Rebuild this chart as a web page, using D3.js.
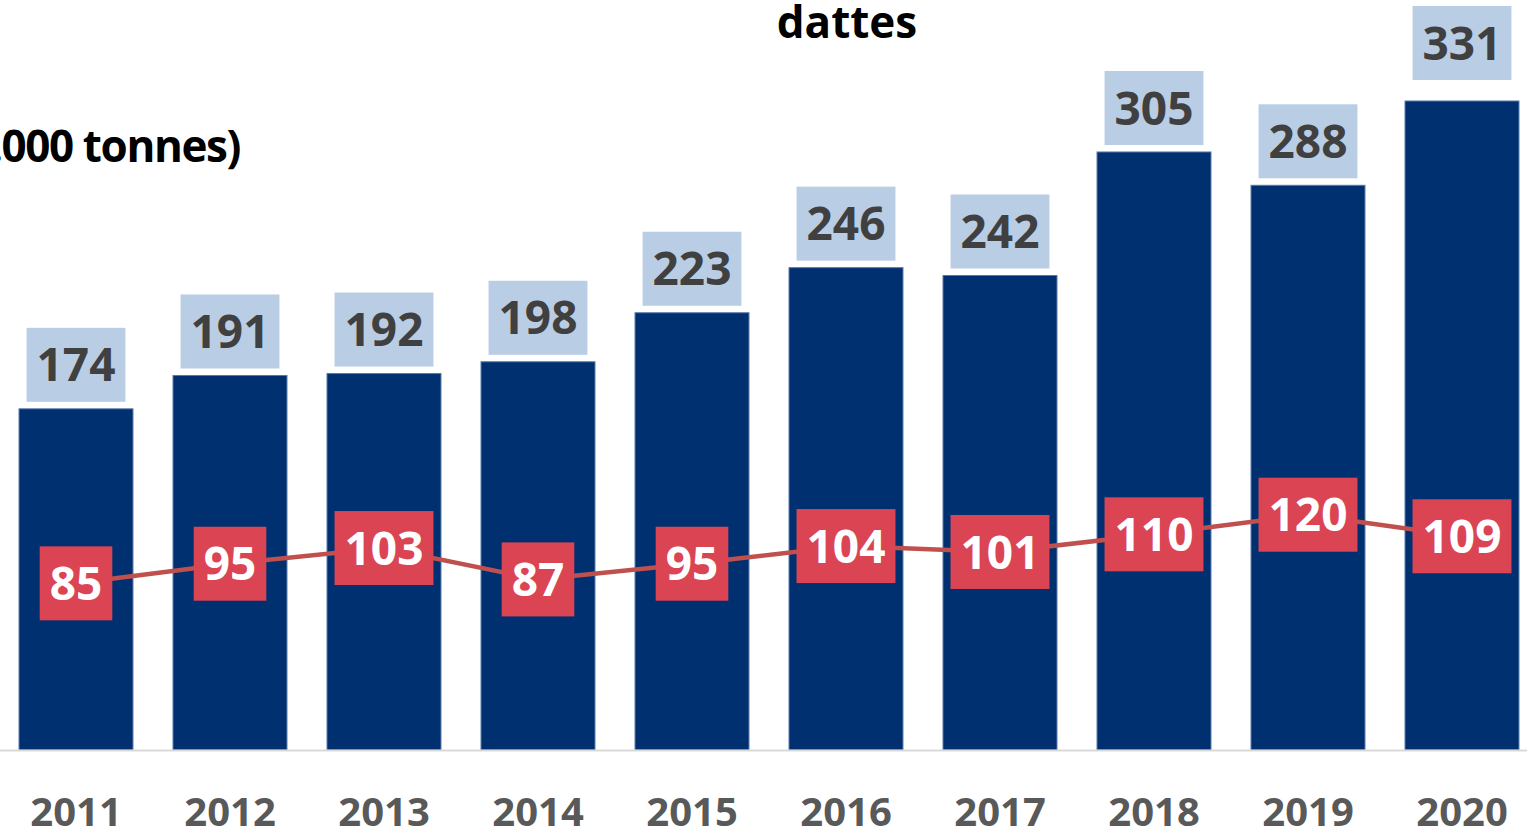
<!DOCTYPE html>
<html>
<head>
<meta charset="utf-8">
<script src="https://cdn.jsdelivr.net/npm/d3@7"></script>
<style>
  html, body { margin: 0; padding: 0; background: #fff; overflow: hidden; }
  svg { display: block; font-family: "Open Sans", "Noto Sans", sans-serif; font-weight: 700; }
</style>
</head>
<body>
<svg id="chart" width="1527" height="837"></svg>
<script>
// ============ Data ============
const years = ["2011","2012","2013","2014","2015","2016","2017","2018","2019","2020"];
const production = [174, 191, 192, 198, 223, 246, 242, 305, 288, 331];
const secondSeries = [85, 95, 103, 87, 95, 104, 101, 110, 120, 109];
const titleText = "dattes";
const unitText = "(1.000 tonnes)";

// ============ Setup ============
const WIDTH = 1527, HEIGHT = 837;
const BASE_Y = 750;
const BOX_H = 74;
const svg = d3.select("#chart");

const x = d3.scaleBand()
  .domain(years)
  .range([-1, 1539])
  .paddingInner(0.26)
  .paddingOuter(0.13);

const y = d3.scaleLinear()
  .domain([0, 331])
  .range([BASE_Y, 101]);

const rows = years.map((yr, i) => ({ yr, bar: production[i], line: secondSeries[i] }));
const cx = d => x(d.yr) + x.bandwidth() / 2;
// gap between a bar top and its label box (last label sits a bit higher in the source)
const labelGap = d => d.yr === "2020" ? 21 : 7;

// ---- Bars ----
svg.append("g").selectAll("rect")
  .data(rows)
  .enter().append("rect")
  .attr("x", d => x(d.yr))
  .attr("y", d => y(d.bar))
  .attr("width", x.bandwidth())
  .attr("height", d => BASE_Y - y(d.bar))
  .attr("fill", "#003070")
  .attr("stroke", "#5577aa")
  .attr("stroke-width", 1);

// ---- Axis ----
const axis = svg.append("g")
  .attr("transform", `translate(0,${BASE_Y})`)
  .call(d3.axisBottom(x).tickSize(0).tickSizeOuter(0));
axis.select(".domain").attr("stroke", "#d9d9d9").attr("stroke-width", 2);
axis.selectAll(".tick text")
  .attr("y", 76)
  .attr("dy", 0)
  .attr("fill", "#595959")
  .attr("font-size", 40)
  .attr("font-weight", 700)
  .attr("font-family", "'Open Sans', sans-serif");

// ---- Bar value labels ----
function sizeBox(){
  const g = d3.select(this);
  const w = g.select("text").node().getBBox().width + 20;
  g.select("rect").attr("x", -w / 2).attr("y", -BOX_H / 2).attr("width", w).attr("height", BOX_H);
}

const barLabels = svg.append("g").selectAll("g")
  .data(rows)
  .enter().append("g")
  .attr("transform", d => `translate(${cx(d)},${y(d.bar) - labelGap(d) - BOX_H / 2})`);
barLabels.append("rect").attr("fill", "#b9cde5");
barLabels.append("text")
  .attr("text-anchor", "middle")
  .attr("dy", "0.36em")
  .attr("font-size", 46)
  .attr("fill", "#404040")
  .text(d => d.bar);
barLabels.each(sizeBox);

// ---- Line ----
const line = d3.line().x(cx).y(d => y(d.line));
svg.append("path")
  .datum(rows)
  .attr("d", line)
  .attr("fill", "none")
  .attr("stroke", "#c0504d")
  .attr("stroke-width", 4.5);

const lineLabels = svg.append("g").selectAll("g")
  .data(rows)
  .enter().append("g")
  .attr("transform", d => `translate(${cx(d)},${y(d.line)})`);
lineLabels.append("rect").attr("fill", "#db4453");
lineLabels.append("text")
  .attr("text-anchor", "middle")
  .attr("dy", "0.36em")
  .attr("font-size", 46)
  .attr("fill", "#ffffff")
  .text(d => d.line);
lineLabels.each(sizeBox);

// ---- Titles (clipped by the frame, as in the source) ----
svg.append("text")
  .attr("x", 847).attr("y", 38)
  .attr("text-anchor", "middle")
  .attr("font-size", 44)
  .attr("fill", "#000")
  .text(titleText);

svg.append("text")
  .attr("x", 240).attr("y", 162)
  .attr("text-anchor", "end")
  .attr("font-size", 44)
  .attr("letter-spacing", -1.4)
  .attr("fill", "#000")
  .text(unitText);
</script>
</body>
</html>
